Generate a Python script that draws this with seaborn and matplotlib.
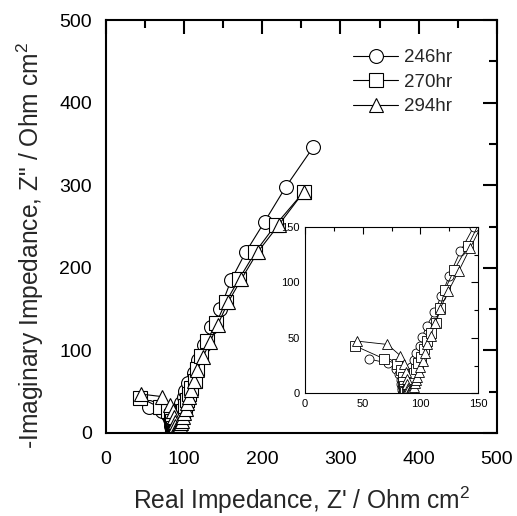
import matplotlib
matplotlib.use("Agg")
import matplotlib.pyplot as plt
import seaborn as sns
import pandas as pd
from matplotlib.ticker import MultipleLocator

sns.set_theme(style="white")
plt.rcParams['font.family'] = ['Liberation Sans', 'DejaVu Sans']
plt.rcParams['mathtext.fontset'] = 'custom'
plt.rcParams['mathtext.rm'] = 'Liberation Sans'
plt.rcParams['mathtext.it'] = 'Liberation Sans:italic'

# ---- data (Z' , -Z'') ----
labels = ["246hr", "270hr", "294hr"]

x_246 = [55, 72, 79, 81.5, 83, 83.5, 84, 84, 84.5,
         85, 85.5, 86, 87, 88, 89, 90.5, 92, 94, 96.5, 99.5, 101.5, 105.5,
         112, 118, 125, 134.5, 146, 160, 178.6, 203, 230, 265]
y_246 = [31, 27, 22, 17, 12, 8, 5, 3, 1.5,
         1, 3, 5, 8, 11, 14.5, 19, 24, 30, 36, 43, 51, 61,
         73, 88, 106, 128, 150, 185, 218.7, 256, 298, 346]

x_270 = [43.4, 68.5, 79.5, 83, 84.5, 85, 85.5, 86, 86,
         87, 88, 89, 90, 91, 92, 93, 94.5, 96, 98, 100.5, 103, 106,
         109, 113.6, 117, 121, 129, 141, 153, 170, 191, 217, 253]
y_270 = [42.7, 31, 26, 21, 15, 10, 6.5, 4, 2,
         1, 2, 4, 6, 8, 11, 14, 18, 22, 27, 33, 40, 47,
         54, 63, 77, 93, 111, 133, 158, 186, 219, 252, 292]

x_294 = [45.4, 71.4, 82.4, 86, 87.5, 88, 88.5, 89, 89,
         90, 91, 92.5, 94, 95, 96, 97, 98.5, 100, 102, 104, 106,
         109, 112.5, 117, 124, 133, 143, 156, 173, 194, 221, 253]
y_294 = [47, 44, 34, 26, 19, 13, 8, 5, 2.5,
         1, 2, 4, 6, 9, 12, 15, 19, 24, 29, 36, 44,
         52, 63, 76, 92, 110, 131, 158, 186, 219, 252, 292]

series = [(x_246, y_246, "o"), (x_270, y_270, "s"), (x_294, y_294, "^")]

fig = plt.figure(figsize=(5.17, 5.16), dpi=100)
ax = fig.add_axes([0.205, 0.161, 0.756, 0.800])
axin = fig.add_axes([0.590, 0.238, 0.335, 0.322])

def draw(a, ms, lw, mew, with_label):
    for (xs, ys, m), lab in zip(series, labels):
        df = pd.DataFrame({"x": xs, "y": ys})
        sns.lineplot(data=df, x="x", y="y", sort=False, estimator=None, ax=a,
                     color="black", linewidth=lw, marker=m, markersize=ms,
                     markerfacecolor="white", markeredgecolor="black",
                     markeredgewidth=mew, label=lab if with_label else None,
                     legend=False)

draw(ax, 10, 0.8, 0.8, True)
draw(axin, 6.5, 0.6, 0.6, False)

# main axes styling
ax.set_xlim(0, 500)
ax.set_ylim(0, 500)
ax.xaxis.set_major_locator(MultipleLocator(100))
ax.xaxis.set_minor_locator(MultipleLocator(50))
ax.yaxis.set_major_locator(MultipleLocator(100))
ax.yaxis.set_minor_locator(MultipleLocator(50))
ax.tick_params(which="both", direction="in", top=True, right=True,
               color="black", labelsize=14, labelcolor="black")
ax.tick_params(which="major", length=10, width=1.5)
ax.tick_params(which="minor", length=6, width=1.5)
ax.tick_params(axis="x", which="major", pad=13)
ax.tick_params(axis="y", which="major", pad=10)
for s in ax.spines.values():
    s.set_linewidth(1.5)
    s.set_color("black")
ax.set_xlabel("Real Impedance, Z' / Ohm cm$^2$", fontsize=17.7, labelpad=12)
ax.set_ylabel('-Imaginary Impedance, Z" / Ohm cm$^2$', fontsize=17.7)
ax.yaxis.set_label_coords(-0.153, 0.455)

leg = ax.legend(loc="upper left", bbox_to_anchor=(0.613, 0.948), frameon=False,
                fontsize=13.5, handlelength=2.4, handletextpad=0.3,
                labelspacing=0.4, borderaxespad=0)

# inset styling
axin.set_xlim(0, 150)
axin.set_ylim(0, 150)
axin.xaxis.set_major_locator(MultipleLocator(50))
axin.xaxis.set_minor_locator(MultipleLocator(25))
axin.yaxis.set_major_locator(MultipleLocator(50))
axin.yaxis.set_minor_locator(MultipleLocator(25))
axin.tick_params(which="both", direction="in", top=True, right=True,
                 color="black", labelsize=8, labelcolor="black", pad=4)
axin.tick_params(which="major", length=5, width=0.8)
axin.tick_params(which="minor", length=3, width=0.8)
for s in axin.spines.values():
    s.set_linewidth(0.8)
    s.set_color("black")
axin.set_xlabel("")
axin.set_ylabel("")

fig.savefig("out.png", dpi=100)
